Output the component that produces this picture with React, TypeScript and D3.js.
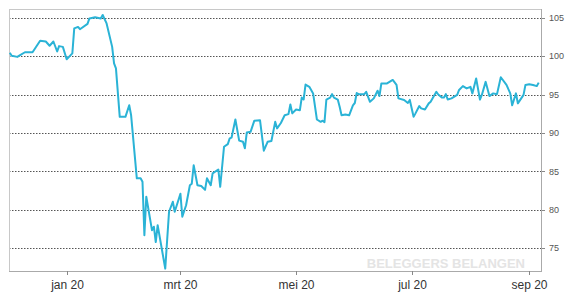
import React from "react";
import * as d3 from "d3";

const dates: string[] = [
  "2019-12-02","2019-12-03","2019-12-06","2019-12-07","2019-12-10","2019-12-14","2019-12-18","2019-12-21","2019-12-23","2019-12-25",
  "2019-12-27","2019-12-28","2019-12-30","2020-01-01","2020-01-04","2020-01-05","2020-01-07","2020-01-08","2020-01-12","2020-01-13",
  "2020-01-16","2020-01-19","2020-01-20","2020-01-22","2020-01-25","2020-01-26","2020-01-27","2020-01-29","2020-02-01","2020-02-03",
  "2020-02-04","2020-02-07","2020-02-09","2020-02-10","2020-02-11","2020-02-12","2020-02-15","2020-02-16","2020-02-17","2020-02-18",
  "2020-02-22","2020-02-24","2020-02-26","2020-02-27","2020-03-01","2020-03-02","2020-03-04","2020-03-06","2020-03-07","2020-03-08",
  "2020-03-10","2020-03-12","2020-03-14","2020-03-15","2020-03-17","2020-03-18","2020-03-21","2020-03-22","2020-03-24","2020-03-26",
  "2020-03-27","2020-03-28","2020-03-30","2020-04-01","2020-04-03","2020-04-04","2020-04-05","2020-04-07","2020-04-09","2020-04-12",
  "2020-04-14","2020-04-16","2020-04-18","2020-04-20","2020-04-21","2020-04-23","2020-04-25","2020-04-27","2020-04-28","2020-04-29",
  "2020-05-01","2020-05-03","2020-05-04","2020-05-05","2020-05-06","2020-05-08","2020-05-10","2020-05-12","2020-05-14","2020-05-15",
  "2020-05-16","2020-05-17","2020-05-19","2020-05-20","2020-05-21","2020-05-23","2020-05-24","2020-05-25","2020-05-27","2020-05-29",
  "2020-05-31","2020-06-01","2020-06-02","2020-06-03","2020-06-06","2020-06-07","2020-06-09","2020-06-11","2020-06-13","2020-06-14",
  "2020-06-15","2020-06-18","2020-06-21","2020-06-23","2020-06-24","2020-06-27","2020-06-29","2020-06-30","2020-07-02","2020-07-03",
  "2020-07-05","2020-07-06","2020-07-08","2020-07-10","2020-07-11","2020-07-14","2020-07-15","2020-07-17","2020-07-18","2020-07-19",
  "2020-07-20","2020-07-22","2020-07-25","2020-07-26","2020-07-28","2020-07-30","2020-08-01","2020-08-02","2020-08-04","2020-08-06",
  "2020-08-07","2020-08-09","2020-08-11","2020-08-13","2020-08-15","2020-08-17","2020-08-20","2020-08-22","2020-08-23","2020-08-25",
  "2020-08-26","2020-08-29","2020-08-30","2020-09-01","2020-09-03","2020-09-05","2020-09-06"
];

const values: number[] = [
  100.44,100.05,99.9,100.05,100.5,100.5,102.0,101.9,101.35,101.9,
  100.6,101.3,101.2,99.6,100.35,103.6,103.8,103.5,104.2,104.9,
  105.05,104.9,105.35,104.3,101.2,99.05,98.4,92.1,92.1,93.6,
  92.3,84.1,84.1,83.65,76.7,81.7,77.35,77.8,75.8,78.0,
  72.35,79.75,81.05,79.75,82.1,79.1,80.6,83.2,83.4,85.8,
  83.2,83.1,82.6,84.1,83.2,84.75,85.25,83.0,88.2,88.55,
  89.3,89.4,91.75,89.0,88.85,88.0,90.05,90.15,91.6,91.65,
  87.7,88.85,88.95,91.45,90.6,91.3,92.3,92.45,93.7,92.55,
  93.05,92.95,94.6,94.35,96.3,96.0,95.15,91.75,91.45,91.6,
  91.4,94.35,94.6,95.05,94.6,94.35,93.4,92.3,92.4,92.3,
  93.6,93.9,95.2,95.05,95.05,95.35,94.05,94.5,95.5,94.8,
  96.45,96.45,96.9,96.25,94.5,94.3,93.9,94.3,92.1,92.55,
  93.5,93.2,93.05,93.85,94.05,95.35,95.0,94.6,94.6,95.05,
  94.35,94.5,94.95,95.6,96.1,95.8,96.0,95.15,97.1,94.35,
  94.95,96.65,94.8,95.15,95.05,97.25,96.25,95.15,93.6,95.15,
  93.85,94.95,96.25,96.35,96.25,96.1,96.55
];

const yTicks: number[] = [75, 80, 85, 90, 95, 100, 105];
const xTickDates: string[] = ["2020-01-01", "2020-03-01", "2020-05-01", "2020-07-01", "2020-09-01"];
const xTickLabels: string[] = ["jan 20", "mrt 20", "mei 20", "jul 20", "sep 20"];
const watermark = "BELEGGERS BELANGEN";

const W = 577;
const H = 296;
const left = 9;
const right = 541;
const top = 9;
const bottom = 271;

export default function App() {
  const parse = d3.utcParse("%Y-%m-%d");
  const data = dates.map((d, i) => ({ date: parse(d) as Date, value: values[i] }));

  const x = d3
    .scaleUtc()
    .domain([new Date(Date.UTC(2019, 11, 1, 14)), new Date(Date.UTC(2020, 8, 7, 5))])
    .range([left, right]);
  const y = d3.scaleLinear().domain([72.04, 106.13]).range([bottom, top]);

  const line = d3
    .line<{ date: Date; value: number }>()
    .x((d) => x(d.date))
    .y((d) => y(d.value));

  return (
    <svg
      width={W}
      height={H}
      style={{ position: "absolute", left: 0, top: 0, background: "#fff" }}
      fontFamily="Arial, 'Liberation Sans', sans-serif"
    >
      <rect x={0} y={0} width={W} height={H} fill="#fff" />
      {yTicks.map((t) => (
        <g key={t}>
          <line
            x1={left}
            x2={right}
            y1={Math.round(y(t)) + 0.5}
            y2={Math.round(y(t)) + 0.5}
            stroke="#555"
            strokeWidth={1}
            strokeDasharray="1.5,1.5"
          />
          <line x1={right} x2={right + 4} y1={Math.round(y(t)) + 0.5} y2={Math.round(y(t)) + 0.5} stroke="#888" />
          <text x={right + 8} y={y(t) + 3.2} fontSize={9} fill="#555">
            {t}
          </text>
        </g>
      ))}
      <text
        x={525}
        y={268}
        textAnchor="end"
        fontSize={13}
        fontWeight="bold"
        fill="#e4e4e4"
      >
        {watermark}
      </text>
      <rect x={left + 0.5} y={top + 0.5} width={right - left} height={bottom - top} fill="none" stroke="#c8c8c8" />
      <line x1={right + 0.5} x2={right + 0.5} y1={top} y2={bottom + 1} stroke="#aaa" />
      <line x1={left} x2={right + 1} y1={bottom + 0.5} y2={bottom + 0.5} stroke="#aaa" />
      {xTickDates.map((d, i) => {
        const xp = Math.round(x(parse(d) as Date)) + 0.5;
        return (
          <g key={d}>
            <line x1={xp} x2={xp} y1={bottom} y2={bottom + 4} stroke="#888" />
            <text x={xp} y={289} textAnchor="middle" fontSize={12} fill="#333">
              {xTickLabels[i]}
            </text>
          </g>
        );
      })}
      <path d={line(data) || ""} fill="none" stroke="#2ab3d6" strokeWidth={2} strokeLinejoin="round" />
    </svg>
  );
}
